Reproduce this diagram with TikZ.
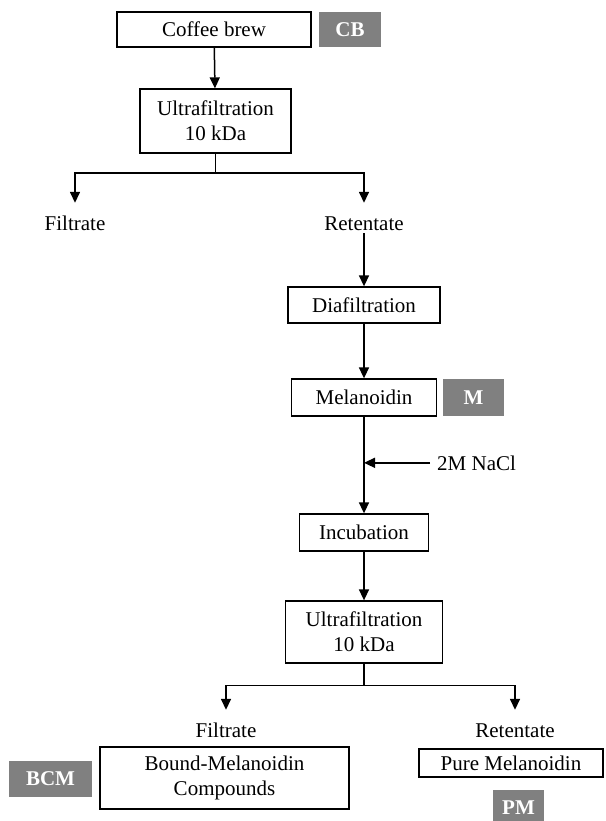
\documentclass[tikz,border=0pt]{standalone}
\usepackage{fontspec}
\setmainfont{Liberation Serif}
\usetikzlibrary{arrows.meta}

\definecolor{tagGray}{RGB}{128,128,128}

\tikzset{
    box/.style={draw, line width=1.3pt, align=center, inner sep=0pt},
    tag/.style={fill=tagGray, text=white, font=\fontsize{21}{25}\selectfont\bfseries, inner sep=0pt},
    lbl/.style={inner sep=0pt, text height=27pt, text depth=3pt},
    arr/.style={line width=1.5pt, -{Triangle[length=11pt,width=10pt]}},
    ln/.style={line width=1.5pt}
}

\begin{document}
\begin{tikzpicture}[x=1pt,y=-1pt,font=\fontsize{21}{25}\selectfont]
        \useasboundingbox (0,0) rectangle (605,821);

        \node[box, minimum width=194pt, minimum height=35pt] (brew) at (214, 29.5) {Coffee brew};
        \node[tag, minimum width=62pt, minimum height=35pt] (cb) at (350, 29.5) {CB};

        \node[box, minimum width=151pt, minimum height=64pt] (uf1) at (215.5, 121) {Ultrafiltration\\10 kDa};
        \coordinate (b1) at (215.5, 173);

        \node[lbl, anchor=base] (fil1) at (75, 230) {Filtrate};
        \node[lbl, anchor=base] (ret1) at (364, 230) {Retentate};

        \node[box, minimum width=152pt, minimum height=36pt] (dia) at (364, 305) {Diafiltration};

        \node[box, minimum width=145pt, minimum height=37pt] (mel) at (364, 397.5) {Melanoidin};
        \node[tag, minimum width=61pt, minimum height=37pt] (m) at (473.5, 397.5) {M};

        \node[anchor=base west, inner xsep=7pt, inner ysep=0pt] (nacl) at (430, 470) {2M NaCl};

        \node[box, minimum width=129pt, minimum height=37pt] (inc) at (364, 532.5) {Incubation};

        \node[box, minimum width=157pt, minimum height=62pt] (uf2) at (364, 632) {Ultrafiltration\\10 kDa};
        \coordinate (b2) at (364, 685.5);

        \node[lbl, anchor=base] (fil2) at (226, 737) {Filtrate};
        \node[lbl, anchor=base] (ret2) at (515, 737) {Retentate};

        \node[box, minimum width=249pt, minimum height=62pt] (bcm) at (224.5, 778) {Bound-Melanoidin\\Compounds};
        \node[tag, minimum width=83pt, minimum height=36pt] (bcmtag) at (50.5, 779) {BCM};

        \node[box, minimum width=184pt, minimum height=28pt] (pure) at (511, 763) {Pure Melanoidin};
        \node[tag, minimum width=51pt, minimum height=36pt] (pm) at (518.5, 808) {PM};

        % connectors
        \draw[arr] (brew) -- (uf1);
        \draw[ln] (uf1) -- (b1);
        \draw[arr] (b1) -| (fil1);
        \draw[arr] (b1) -| (ret1);
        \draw[arr] (ret1) -- (dia);
        \draw[arr] (dia) -- (mel);
        \draw[arr] (mel) -- (inc);
        \draw[arr] (nacl.west) -- (nacl.west -| mel.south);
        \draw[arr] (inc) -- (uf2);
        \draw[ln] (uf2) -- (b2);
        \draw[arr] (b2) -| (fil2);
        \draw[arr] (b2) -| (ret2);

    \end{tikzpicture}
\end{document}
